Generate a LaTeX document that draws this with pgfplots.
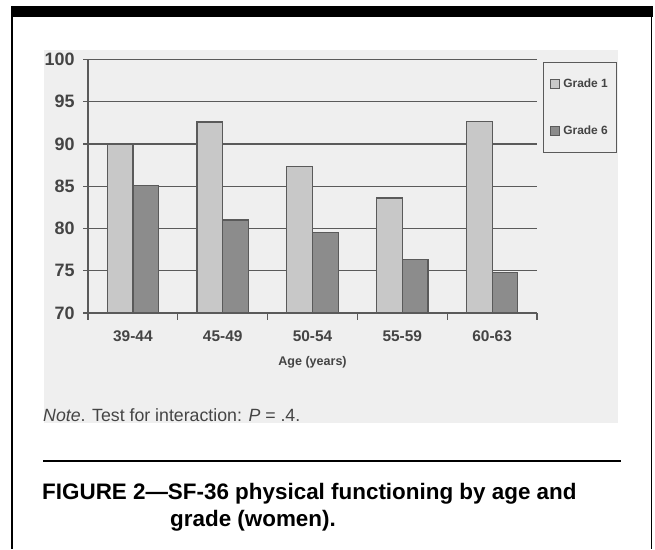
\documentclass[border=0pt]{standalone}
\usepackage{fontspec}
\setmainfont{Liberation Sans}
\usepackage{pgfplots}
\pgfplotsset{compat=1.18}
\definecolor{bg}{HTML}{EFEFEF}
\definecolor{gA}{HTML}{C8C8C8}
\definecolor{gB}{HTML}{8C8C8C}
\definecolor{ln}{HTML}{5A5A5A}
\definecolor{tx}{HTML}{444444}
\pgfplotsset{sq/.style={legend image code/.code={\draw[fill=#1, draw=ln, line width=0.8bp] (0bp,-4.5bp) rectangle (9bp,4.5bp); \path[draw=none, fill=none] (9bp,0bp) rectangle (11bp,0.1bp);}}}
\begin{document}
\begin{tikzpicture}[x=1bp,y=1bp]
\path (0,0) rectangle (655,549);
\fill[black] (12,543) rectangle (653,531.5);
\draw[line width=2bp] (12,543) -- (12,0);
\draw[line width=1.5bp] (651.5,543) -- (651.5,0);
\fill[bg] (44,499) rectangle (618,126);
\begin{axis}[
  at={(88bp,236bp)}, anchor=south west,
  scale only axis, width=449bp, height=253.5bp,
  xmin=-0.5, xmax=4.5, ymin=70, ymax=100,
  axis x line*=bottom, axis y line*=left,
  axis line style={draw=ln, line width=1.2bp, -},
  ytick={70,75,...,100},
  ymajorgrids, grid style={draw=ln, line width=1.1bp},
  tick align=outside, major tick length=5bp, minor tick length=7bp,
  ytick style={draw=ln, line width=1.2bp},
  xtick={0,...,4}, xticklabels={39-44,45-49,50-54,55-59,60-63},
  minor xtick={-0.5,0.5,...,4.5},
  major x tick style={draw=none},
  minor x tick style={draw=ln, line width=1.2bp},
  yticklabel shift=5bp, xticklabel shift=9bp,
  yticklabel style={font=\bfseries\fontsize{18}{18}\selectfont, text=tx},
  xticklabel style={font=\bfseries\fontsize{15.5}{15.5}\selectfont, text=tx},
  xlabel={Age (years)},
  xlabel style={font=\bfseries\fontsize{12.6}{12.6}\selectfont, text=tx, yshift=-8bp},
  ybar=0pt, bar width=25.7bp,
  /pgf/number format/assume math mode=true,
  legend style={draw=ln, line width=0.8bp, fill=none, at={(1.0134,0.990)}, anchor=north west,
    inner xsep=7bp, inner ysep=15bp, row sep=34bp,
    nodes={inner sep=1.5bp, font=\bfseries\fontsize{12}{12}\selectfont, text=tx}},
  legend cell align=left,
]
\addplot[fill=gA, draw=ln, line width=1.2bp, sq=gA] coordinates {(0,89.9) (1,92.6) (2,87.3) (3,83.6) (4,92.7)};
\addplot[fill=gB, draw=ln, line width=1.2bp, sq=gB] coordinates {(0,85.1) (1,81.0) (2,79.5) (3,76.3) (4,74.8)};
\legend{Grade 1, Grade 6}
\end{axis}
\node[anchor=base west, inner sep=0, text=tx, font=\fontsize{17.8}{17.8}\selectfont] at (43,127) {\textit{Note}. Test for interaction: \textit{P} = .4.};
\draw[line width=2bp] (43,88) -- (621,88);
\node[anchor=base west, inner sep=0, font=\bfseries\fontsize{22.5}{22.5}\selectfont] at (42,49) {FIGURE 2—SF-36 physical functioning by age and};
\node[anchor=base west, inner sep=0, font=\bfseries\fontsize{22.5}{22.5}\selectfont] at (170,22) {grade (women).};
\end{tikzpicture}
\end{document}
